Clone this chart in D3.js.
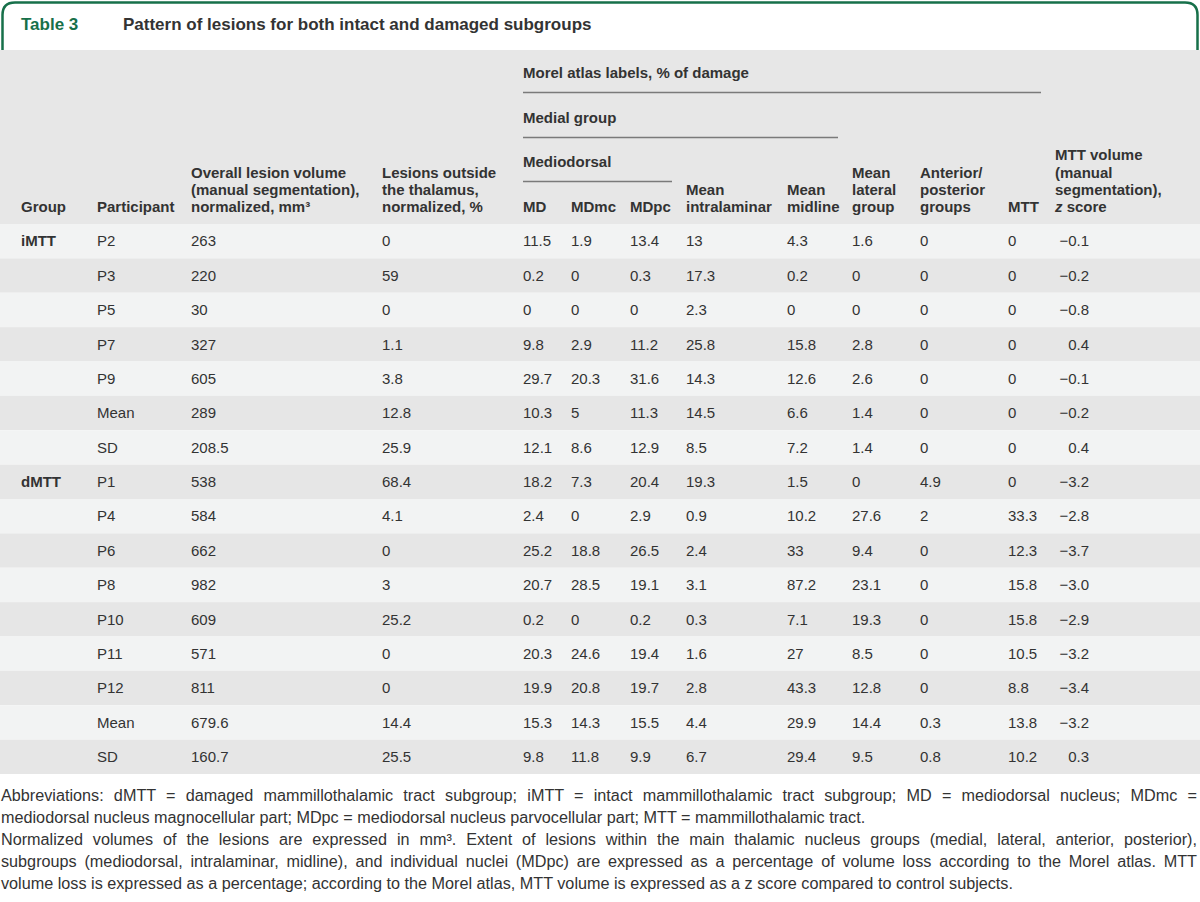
<!DOCTYPE html>
<html>
<head>
<meta charset="utf-8">
<script src="https://cdn.jsdelivr.net/npm/d3@7"></script>
<style>
  html, body { margin: 0; padding: 0; background: #fff; }
  svg { display: block; }
  text { font-family: "Liberation Sans", Arial, sans-serif; fill: #333; }
</style>
</head>
<body>
<svg id="chart" width="1200" height="902"></svg>
<script>
// ---------------- DATA ----------------
const groups = ["iMTT", "", "", "", "", "", "", "dMTT", "", "", "", "", "", "", "", ""];
const participants = ["P2", "P3", "P5", "P7", "P9", "Mean", "SD", "P1", "P4", "P6", "P8", "P10", "P11", "P12", "Mean", "SD"];
const overallVolume = [263, 220, 30, 327, 605, 289, 208.5, 538, 584, 662, 982, 609, 571, 811, 679.6, 160.7];
const outsideThalamus = [0, 59, 0, 1.1, 3.8, 12.8, 25.9, 68.4, 4.1, 0, 3, 25.2, 0, 0, 14.4, 25.5];
const mdValues = [11.5, 0.2, 0, 9.8, 29.7, 10.3, 12.1, 18.2, 2.4, 25.2, 20.7, 0.2, 20.3, 19.9, 15.3, 9.8];
const mdmcValues = [1.9, 0, 0, 2.9, 20.3, 5, 8.6, 7.3, 0, 18.8, 28.5, 0, 24.6, 20.8, 14.3, 11.8];
const mdpcValues = [13.4, 0.3, 0, 11.2, 31.6, 11.3, 12.9, 20.4, 2.9, 26.5, 19.1, 0.2, 19.4, 19.7, 15.5, 9.9];
const intralaminar = [13, 17.3, 2.3, 25.8, 14.3, 14.5, 8.5, 19.3, 0.9, 2.4, 3.1, 0.3, 1.6, 2.8, 4.4, 6.7];
const midline = [4.3, 0.2, 0, 15.8, 12.6, 6.6, 7.2, 1.5, 10.2, 33, 87.2, 7.1, 27, 43.3, 29.9, 29.4];
const lateralGroup = [1.6, 0, 0, 2.8, 2.6, 1.4, 1.4, 0, 27.6, 9.4, 23.1, 19.3, 8.5, 12.8, 14.4, 9.5];
const antPost = [0, 0, 0, 0, 0, 0, 0, 4.9, 2, 0, 0, 0, 0, 0, 0.3, 0.8];
const mttLoss = [0, 0, 0, 0, 0, 0, 0, 0, 33.3, 12.3, 15.8, 15.8, 10.5, 8.8, 13.8, 10.2];
const zScore = [-0.1, -0.2, -0.8, 0.4, -0.1, -0.2, 0.4, -3.2, -2.8, -3.7, -3.0, -2.9, -3.2, -3.4, -3.2, 0.3];

const columnKeys = ["group", "participant", "overall", "outside", "md", "mdmc", "mdpc", "intralaminar", "midline", "lateral", "antpost", "mtt", "z"];
const headerLabels = [
  ["Group"],
  ["Participant"],
  ["Overall lesion volume", "(manual segmentation),", "normalized, mm³"],
  ["Lesions outside", "the thalamus,", "normalized, %"],
  ["MD"], ["MDmc"], ["MDpc"],
  ["Mean", "intralaminar"],
  ["Mean", "midline"],
  ["Mean", "lateral", "group"],
  ["Anterior/", "posterior", "groups"],
  ["MTT"],
  ["MTT volume", "(manual", "segmentation),", "z score"]
];
const spanLabels = ["Morel atlas labels, % of damage", "Medial group", "Mediodorsal"];
const spanEnds = ["antpost", "midline", "mdpc"];

const titleLabel = "Table 3";
const titleText = "Pattern of lesions for both intact and damaged subgroups";
const footnoteLines = [
  "Abbreviations: dMTT = damaged mammillothalamic tract subgroup; iMTT = intact mammillothalamic tract subgroup; MD = mediodorsal nucleus; MDmc =",
  "mediodorsal nucleus magnocellular part; MDpc = mediodorsal nucleus parvocellular part; MTT = mammillothalamic tract.",
  "Normalized volumes of the lesions are expressed in mm³. Extent of lesions within the main thalamic nucleus groups (medial, lateral, anterior, posterior),",
  "subgroups (mediodorsal, intralaminar, midline), and individual nuclei (MDpc) are expressed as a percentage of volume loss according to the Morel atlas. MTT",
  "volume loss is expressed as a percentage; according to the Morel atlas, MTT volume is expressed as a z score compared to control subjects."
];
const footnoteJustified = [true, false, true, true, false];

// ---------------- LAYOUT ----------------
const W = 1200, H = 902;
const svg = d3.select("#chart");
const GREEN = "#17704a";

const columns = [groups, participants, overallVolume, outsideThalamus, mdValues, mdmcValues, mdpcValues,
  intralaminar, midline, lateralGroup, antPost, mttLoss, zScore];

const xCol = d3.scaleOrdinal().domain(columnKeys)
  .range([21, 97, 191, 382, 523, 571, 630, 686, 787, 852, 920, 1008, 1055]);

const rowIdx = d3.range(participants.length);
const yRow = d3.scaleBand().domain(rowIdx).range([224, 774]);

// header frame
svg.append("path")
  .attr("d", "M2.5,50 V15 Q2.5,2.5 15,2.5 H1185 Q1197.5,2.5 1197.5,15 V50")
  .attr("fill", "#fff").attr("stroke", GREEN).attr("stroke-width", 2.5);

svg.append("text").attr("x", 21).attr("y", 24).attr("dy", "0.35em")
  .style("font-size", "17px").style("font-weight", "bold").style("fill", GREEN)
  .text(titleLabel);
svg.append("text").attr("x", 123).attr("y", 24).attr("dy", "0.35em")
  .style("font-size", "17px").style("font-weight", "bold").style("fill", "#333")
  .text(titleText);

// header background
svg.append("rect").attr("x", 0).attr("y", 50).attr("width", W).attr("height", 174).attr("fill", "#e7e7e7");

// row backgrounds
svg.append("g").selectAll("rect").data(rowIdx).join("rect")
  .attr("x", 0).attr("y", d => yRow(d)).attr("width", W).attr("height", yRow.bandwidth())
  .attr("fill", d => d % 2 === 0 ? "#f2f3f3" : "#e6e6e6");

// column headers
const lh = 17.3, bottomY = 207;
const hg = svg.append("g").style("font-size", "15px").style("font-weight", "bold");
columnKeys.forEach((k, i) => {
  const lines = headerLabels[i];
  const t = hg.append("text").attr("x", xCol(k));
  lines.forEach((ln, j) => {
    const y = bottomY - (lines.length - 1 - j) * lh;
    const ts = t.append("tspan").attr("x", xCol(k)).attr("y", y).attr("dy", "0.35em");
    if (ln === "z score") {
      ts.append("tspan").style("font-style", "italic").text("z");
      ts.append("tspan").text(" score");
    } else {
      ts.text(ln);
    }
  });
});

// spanning headers
const spanY = [73, 118, 162];
const spanLineEnd = { antpost: 1041, midline: 838, mdpc: 672 };
spanLabels.forEach((s, i) => {
  hg.append("text").attr("x", xCol("md")).attr("y", spanY[i]).attr("dy", "0.35em").text(s);
  svg.append("line").attr("x1", xCol("md")).attr("x2", spanLineEnd[spanEnds[i]])
    .attr("y1", spanY[i] + 19.5).attr("y2", spanY[i] + 19.5)
    .attr("stroke", "#7a7a7a").attr("stroke-width", 1.5);
});

// body cells
const fmtZ = v => (v < 0 ? "\u2212" : "") + d3.format(".1f")(Math.abs(v));
const body = svg.append("g").style("font-size", "15px");
columnKeys.forEach((k, ci) => {
  const vals = columns[ci];
  body.append("g").selectAll("text").data(rowIdx).join("text")
    .attr("x", k === "z" ? 1089 : xCol(k))
    .attr("text-anchor", k === "z" ? "end" : "start")
    .attr("y", d => yRow(d) + yRow.bandwidth() / 2)
    .attr("dy", "0.35em")
    .style("font-weight", k === "group" ? "bold" : "normal")
    .text(d => k === "z" ? fmtZ(vals[d]) : String(vals[d]));
});

// footnotes
const fy = d3.scaleBand().domain(d3.range(footnoteLines.length)).range([784, 894]);
const fg = svg.append("g").style("font-family", "Roboto, 'Liberation Sans', sans-serif");
// fit font size so the last (unjustified) line spans like the reference (~1013px)
const probe = fg.append("text").style("font-size", "16px").text(footnoteLines[4]);
const probeW = probe.node().getComputedTextLength();
probe.remove();
const fSize = 16 * 1013 / probeW;
fg.style("font-size", fSize + "px");
footnoteLines.forEach((ln, i) => {
  const t = fg.append("text").attr("x", 1).attr("y", fy(i) + fy.bandwidth() / 2).attr("dy", "0.35em").text(ln);
  if (footnoteJustified[i]) {
    const natural = t.node().getComputedTextLength();
    const spaces = (ln.match(/ /g) || []).length;
    const ws = (1196 - natural) / spaces;
    t.style("word-spacing", ws + "px");
  }
});
</script>
</body>
</html>
